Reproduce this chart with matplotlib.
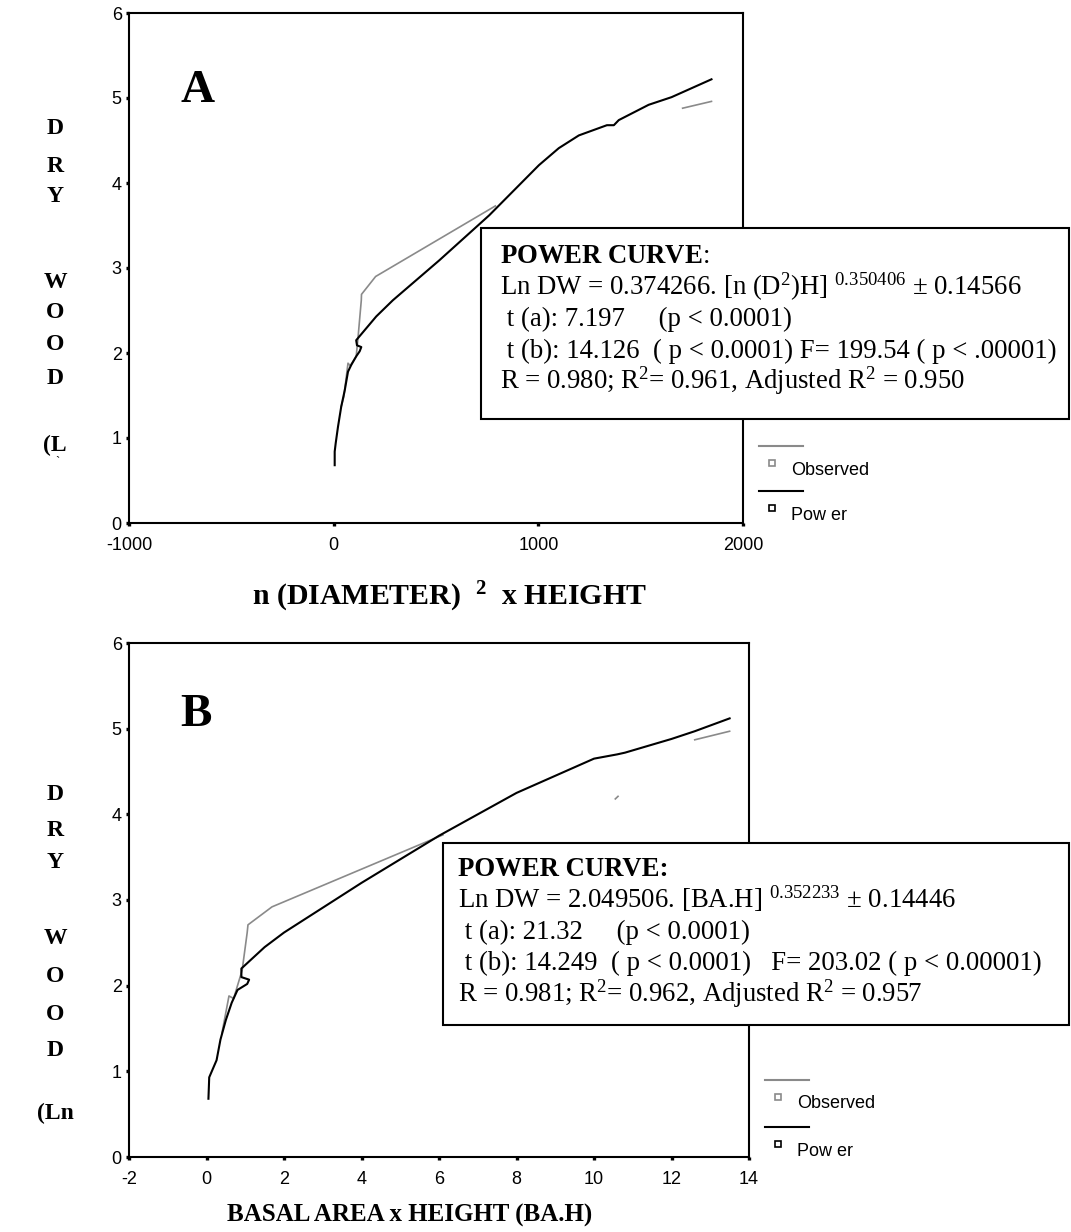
import numpy as np
import matplotlib
matplotlib.use("Agg")
import matplotlib.pyplot as plt
from matplotlib.lines import Line2D
from matplotlib.patches import Rectangle

plt.rcParams["mathtext.fontset"] = "custom"
plt.rcParams["mathtext.rm"] = "Liberation Serif"
plt.rcParams["mathtext.it"] = "Liberation Serif:italic"
plt.rcParams["mathtext.bf"] = "Liberation Serif:bold"

SERIF = "Liberation Serif"
SANS = "Liberation Sans"
GRAY = "#8a8a8a"

# ---- panel A : n(D^2)H vs Ln DW ----
a_power_x = [5, 5, 10, 21, 37, 54, 70, 86, 110, 127, 135, 114, 110, 208, 289,
             516, 760, 1003, 1100, 1198, 1335, 1369, 1393, 1539, 1651, 1846]
a_power_y = [0.68, 0.84, 0.94, 1.13, 1.37, 1.56, 1.78, 1.86, 1.96, 2.02, 2.07, 2.09, 2.15, 2.43, 2.62,
             3.09, 3.62, 4.21, 4.41, 4.56, 4.68, 4.68, 4.74, 4.92, 5.01, 5.22]
a_obs_x = [37, 50, 70, 81, 110, 119, 135, 136, 205, 790, np.nan, 1705, 1846]
a_obs_y = [1.37, 1.49, 1.88, 1.85, 1.96, 2.18, 2.62, 2.69, 2.90, 3.73, np.nan, 4.88, 4.96]
a_xticks = [-1000, 0, 1000, 2000]

# ---- panel B : BA.H vs Ln DW ----
b_power_x = [0.05, 0.07, 0.26, 0.36, 0.5, 0.65, 0.8, 1.05, 1.1, 0.9, 0.9, 1.5, 2.0,
             4.0, 6.0, 8.0, 9.5, 10.0, 10.6, 10.8, 12.0, 12.6, 13.5]
b_power_y = [0.68, 0.93, 1.13, 1.37, 1.6, 1.8, 1.95, 2.02, 2.07, 2.1, 2.2, 2.45, 2.62,
             3.2, 3.75, 4.25, 4.55, 4.65, 4.70, 4.72, 4.88, 4.97, 5.12]
b_obs_x = [0.4, 0.58, 0.7, 0.92, 1.05, 1.07, 1.69, 6.1, np.nan, 10.55, 10.62, np.nan, 12.6, 13.5]
b_obs_y = [1.45, 1.88, 1.85, 2.18, 2.62, 2.71, 2.92, 3.76, np.nan, 4.18, 4.21, np.nan, 4.87, 4.97]
b_xticks = [-2, 0, 2, 4, 6, 8, 10, 12, 14]

yticks = [0, 1, 2, 3, 4, 5, 6]
ylabel_a = ["D", "R", "Y", "W", "O", "O", "D", "(L"]
ylabel_b = ["D", "R", "Y", "W", "O", "O", "D", "(Ln"]

box_a = [r"$\mathbf{POWER\ CURVE}$:",
         r"Ln DW = 0.374266. [n (D$^2$)H] $^{0.350406}$ ± 0.14566",
         " t (a): 7.197     (p < 0.0001)",
         " t (b): 14.126  ( p < 0.0001) F= 199.54 ( p < .00001)",
         r"R = 0.980; R$^2$= 0.961, Adjusted R$^2$ = 0.950"]
box_b = ["POWER CURVE:",
         r"Ln DW = 2.049506. [BA.H] $^{0.352233}$ ± 0.14446",
         " t (a): 21.32     (p < 0.0001)",
         " t (b): 14.249  ( p < 0.0001)   F= 203.02 ( p < 0.00001)",
         r"R = 0.981; R$^2$= 0.962, Adjusted R$^2$ = 0.957"]

W, H = 1071, 1232
fig = plt.figure(figsize=(W / 100, H / 100), dpi=100)


def fx(px):
    return px / W


def fy(py):
    return 1 - py / H


def make_axes(left, top, right, bottom, xticks):
    ax = fig.add_axes([fx(left), fy(bottom), fx(right - left), (bottom - top) / H])
    for s in ax.spines.values():
        s.set_linewidth(1.5)
    ax.set_ylim(0, 6)
    ax.set_xticks(xticks)
    ax.set_yticks(yticks)
    ax.set_xticklabels([str(t) for t in xticks], fontfamily=SANS, fontsize=13)
    ax.set_yticklabels([str(t) for t in yticks], fontfamily=SANS, fontsize=13)
    ax.tick_params(direction="out", length=2.2, width=2.4)
    ax.tick_params(axis="x", pad=8)
    ax.tick_params(axis="y", pad=3)
    return ax


def legend(x0, y_gray, y_black):
    for y, col, lab in [(y_gray, GRAY, "Observed"), (y_black, "black", "Pow er")]:
        fig.add_artist(Line2D([fx(x0), fx(x0 + 44)], [fy(y), fy(y)], color=col, lw=1.5))
        fig.add_artist(Line2D([fx(x0 + 13)], [fy(y + 17)], marker="s", ms=4.5, mfc="white",
                              mec=col, mew=1.2, ls="none"))
        fig.text(fx(x0 + 32), fy(y + 24), lab, fontfamily=SANS, fontsize=13, va="center")


def text_box(left, top, right, bottom, lines, y0, dy, xt, bold_first):
    fig.add_artist(Rectangle((fx(left), fy(bottom)), fx(right - left), (bottom - top) / H,
                             fill=True, fc="white", ec="black", lw=1.5, zorder=5))
    for i, s in enumerate(lines):
        fig.text(fx(xt), fy(y0 + i * dy), s, fontfamily=SERIF, fontsize=19.3,
                 fontweight="bold" if (i == 0 and bold_first) else "normal",
                 va="baseline", zorder=6)


# panel A
ax1 = make_axes(129, 13, 743, 523, a_xticks)
ax1.set_xlim(-1000, 2000)
ax1.plot(a_obs_x, a_obs_y, color=GRAY, lw=1.2)
ax1.plot(a_power_x, a_power_y, color="black", lw=1.5)
ax1.text(-664, 5.08, "A", fontfamily=SERIF, fontweight="bold", fontsize=34, ha="center", va="center")
fig.text(fx(449), fy(597), r"n (DIAMETER)  $^{\mathbf{2}}$  x HEIGHT", fontfamily=SERIF,
         fontweight="bold", fontsize=21.5, ha="center", va="center")
for lab, y in zip(ylabel_a, [128, 166, 197, 282, 313, 345, 378, 445]):
    fig.text(fx(55), fy(y), lab, fontfamily=SERIF, fontweight="bold", fontsize=17,
             ha="center", va="center")
fig.text(fx(57), fy(462), "`", fontfamily=SERIF, fontsize=9, ha="center", va="center")
legend(759, 446, 491)
text_box(481, 228, 1069, 419, box_a, 263, 31.5, 500, False)

# panel B
ax2 = make_axes(129, 643, 749, 1157, b_xticks)
ax2.set_xlim(-2, 14)
ax2.plot(b_obs_x, b_obs_y, color=GRAY, lw=1.2)
ax2.plot(b_power_x, b_power_y, color="black", lw=1.5)
ax2.text(-0.26, 5.16, "B", fontfamily=SERIF, fontweight="bold", fontsize=34, ha="center", va="center")
fig.text(fx(410), fy(1215), "BASAL AREA x HEIGHT (BA.H)", fontfamily=SERIF,
         fontweight="bold", fontsize=18, ha="center", va="center")
for lab, y in zip(ylabel_b, [795, 830, 863, 938, 977, 1015, 1050, 1113]):
    fig.text(fx(55), fy(y), lab, fontfamily=SERIF, fontweight="bold", fontsize=17,
             ha="center", va="center")
legend(765, 1080, 1127)
text_box(443, 843, 1069, 1025, box_b, 876, 31.5, 458, True)

fig.savefig("out.png", dpi=100)
